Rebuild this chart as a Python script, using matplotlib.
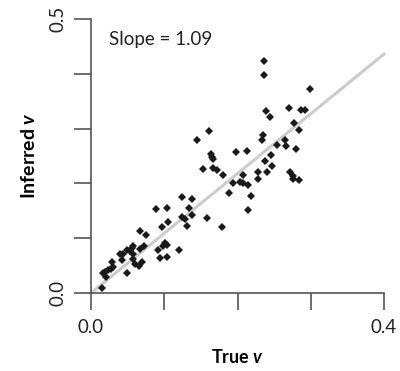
import matplotlib
matplotlib.use("Agg")
import matplotlib.pyplot as plt
import numpy as np

plt.rcParams["font.family"] = ["Lato", "DejaVu Sans"]
plt.rcParams["mathtext.fontset"] = "custom"
plt.rcParams["mathtext.it"] = "Lato:italic:bold"

# true vs inferred v
true_v = [
    0.2355, 0.2355, 0.2983, 0.270, 0.2865, 0.2923, 0.2391, 0.2445, 0.2777, 0.2842,
    0.1617, 0.1444, 0.2345, 0.2332, 0.265, 0.2545, 0.2664, 0.2796, 0.1976, 0.2135,
    0.1635, 0.1658, 0.167, 0.2459, 0.2377, 0.2477, 0.1525, 0.1671, 0.1717, 0.2409,
    0.2277, 0.1808, 0.2072, 0.2286, 0.2719, 0.2755, 0.2764, 0.2842, 0.1944, 0.2036,
    0.2081, 0.2141, 0.1885, 0.2182, 0.2149,
    0.1248, 0.1375, 0.1343, 0.0888, 0.1042, 0.1384, 0.1239, 0.1284, 0.1589, 0.1785,
    0.1316, 0.1056, 0.0975, 0.0669, 0.0747, 0.1011, 0.1042, 0.0988, 0.092, 0.1206,
    0.0943, 0.1042,
    0.0724, 0.0669, 0.056, 0.058, 0.053, 0.057, 0.0488, 0.044, 0.0396, 0.0419,
    0.0578, 0.0601, 0.0692, 0.066, 0.0488, 0.0283, 0.0305, 0.0269, 0.0236, 0.0191,
    0.016, 0.0205, 0.0146,
]
inferred_v = [
    0.424, 0.397, 0.372, 0.338, 0.334, 0.334, 0.332, 0.321, 0.311, 0.297,
    0.296, 0.279, 0.288, 0.280, 0.280, 0.270, 0.268, 0.262, 0.258, 0.260,
    0.254, 0.248, 0.244, 0.252, 0.240, 0.232, 0.226, 0.229, 0.2245, 0.221,
    0.220, 0.215, 0.215, 0.2075, 0.220, 0.2135, 0.2075, 0.206, 0.200, 0.203,
    0.201, 0.197, 0.182, 0.177, 0.1515,
    0.1746, 0.171, 0.156, 0.153, 0.1545, 0.142, 0.139, 0.135, 0.137, 0.121,
    0.123, 0.129, 0.120, 0.114, 0.106, 0.091, 0.088, 0.086, 0.078, 0.078,
    0.063, 0.066,
    0.086, 0.080, 0.082, 0.085, 0.077, 0.072, 0.0785, 0.072, 0.072, 0.060,
    0.0615, 0.053, 0.057, 0.050, 0.036, 0.057, 0.048, 0.043, 0.042, 0.039,
    0.036, 0.030, 0.0085,
]
slope = 1.09
x_ticks = [0.0, 0.1, 0.2, 0.3, 0.4]
x_labels = ["0.0", "", "", "", "0.4"]
y_ticks = [0.0, 0.1, 0.2, 0.3, 0.4, 0.5]
y_labels = ["0.0", "", "", "", "", "0.5"]

fig = plt.figure(figsize=(4.0, 3.71), dpi=100)
ax = fig.add_axes([0.2275, 0.2102, 0.7325, 0.7386])

# fit line
fit_x = np.array([0.0, 0.4])
ax.plot(fit_x, slope * fit_x, color="#cccccc", lw=2.2, zorder=1, clip_on=False)

ax.plot(true_v, inferred_v, "D", color="#1a1a1a", ms=4.2, mew=0, zorder=2, clip_on=False)

ax.set_xlim(0, 0.4)
ax.set_ylim(0, 0.5)
ax.set_xticks(x_ticks)
ax.set_xticklabels(x_labels)
ax.set_yticks(y_ticks)
ax.set_yticklabels(y_labels, rotation=90, va="center")

for s in ["top", "right"]:
    ax.spines[s].set_visible(False)
for s in ["left", "bottom"]:
    ax.spines[s].set_color("#555555")
    ax.spines[s].set_linewidth(1.2)

ax.tick_params(axis="both", direction="out", length=12, width=1.2, color="#555555",
               labelsize=13.5, labelcolor="#222222")
ax.tick_params(axis="x", pad=7)
ax.tick_params(axis="y", pad=6)

ax.text(0.025, 0.462, f"Slope = {slope:.2f}", fontsize=13.5, color="#222222", va="center")

ax.set_xlabel(r"True $v$", fontsize=13, fontweight="bold", labelpad=8)
ax.set_ylabel(r"Inferred $v$", fontsize=14, fontweight="bold", labelpad=8)

fig.savefig("out.png", dpi=100)
